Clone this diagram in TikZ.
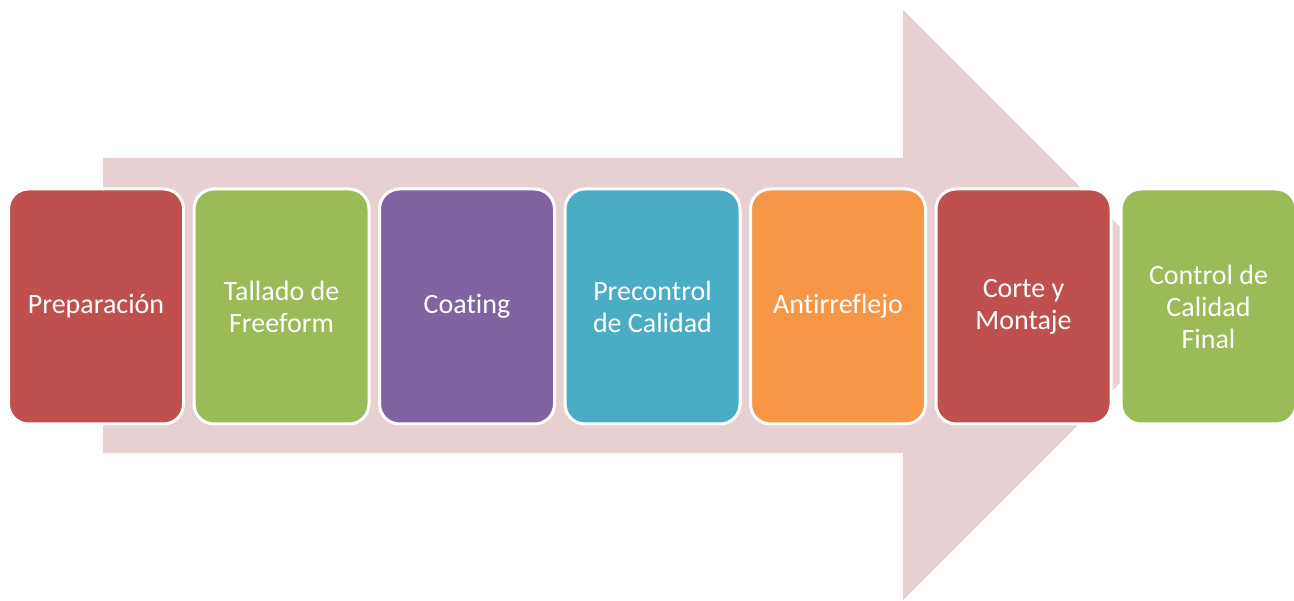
\documentclass[tikz,border=0pt]{standalone}
\usepackage{fontspec}
\setmainfont{Carlito}[Ligatures=NoCommon]

\definecolor{arrowpink}{RGB}{230,208,210}
\definecolor{stepred}{RGB}{192,80,77}
\definecolor{stepgreen}{RGB}{155,187,89}
\definecolor{steppurple}{RGB}{128,100,162}
\definecolor{stepteal}{RGB}{75,172,198}
\definecolor{steporange}{RGB}{247,150,70}

\tikzset{stepbox/.style={draw=white, line width=3pt, rounded corners=20pt,
    minimum width=175pt, minimum height=235pt, align=center,
    text=white, font=\fontsize{28}{32}\selectfont}}

\begin{document}
\begin{tikzpicture}[x=1pt, y=-1pt]

\useasboundingbox (0,0) rectangle (1294,601);

% big arrow behind the steps
\fill[arrowpink] (103,158)
       -- (903,158)
       -- (903,10)
       -- (1198,305)
       -- (903,600)
       -- (903,453)
       -- (103,453)
       -- cycle ;

% process steps
\node[stepbox, fill=stepred]    (prep)   at (96,306.5)     {Preparación};
\node[stepbox, fill=stepgreen]  (tall)   at (281.5,306.5)  {Tallado de\\Freeform};
\node[stepbox, fill=steppurple] (coat)   at (467,306.5)    {Coating};
\node[stepbox, fill=stepteal]   (precon) at (652.5,306.5)  {Precontrol\\de Calidad};
\node[stepbox, fill=steporange] (anti)   at (838,306.5)    {Antirreflejo};
\node[stepbox, fill=stepred]    (corte)  at (1023.5,306.5) {Corte y\\Montaje};
\node[stepbox, fill=stepgreen]  (final)  at (1208.5,306.5) {Control de\\Calidad\\Final};

\end{tikzpicture}
\end{document}
